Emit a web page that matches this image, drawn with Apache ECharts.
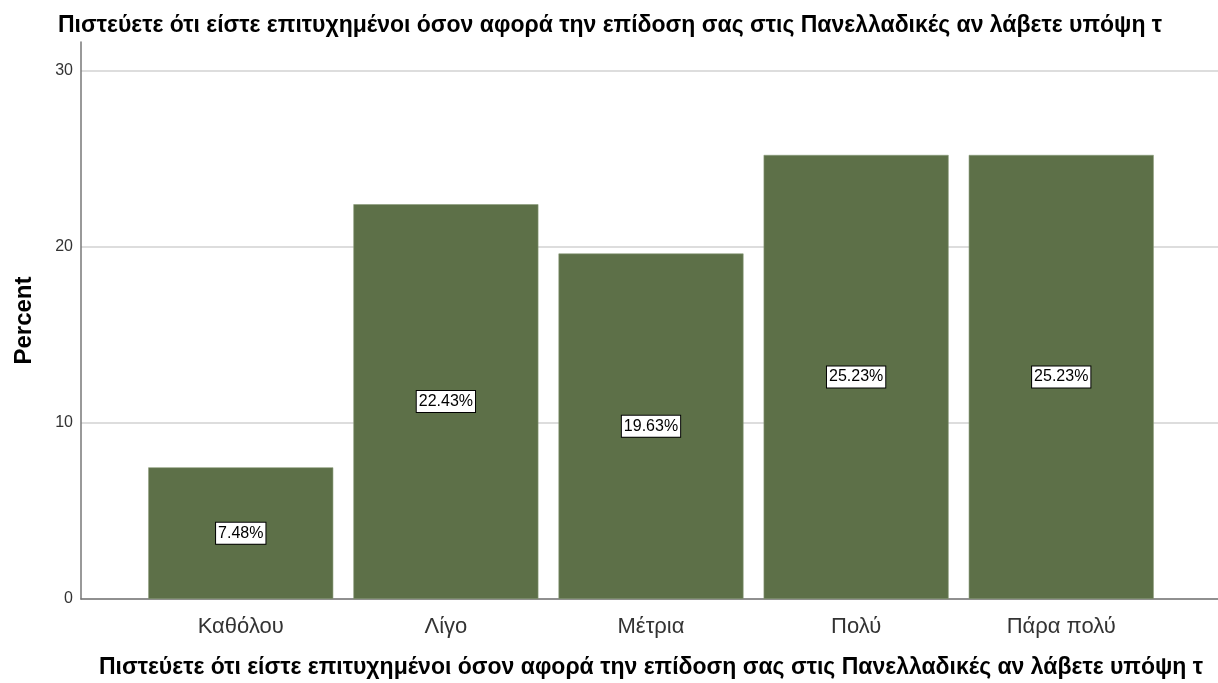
<!DOCTYPE html>
<html>
<head>
<meta charset="utf-8">
<script src="https://cdn.jsdelivr.net/npm/echarts@6/dist/echarts.min.js"></script>
<style>
  html, body { margin: 0; padding: 0; background: #fff; }
  #chart { width: 1218px; height: 683px; }
</style>
</head>
<body>
<div id="chart"></div>
<script>
// Survey answers and their share of respondents (%)
const categories = ['Καθόλου', 'Λίγο', 'Μέτρια', 'Πολύ', 'Πάρα πολύ'];
const percents = [7.48, 22.43, 19.63, 25.23, 25.23];
const questionText = 'Πιστεύετε ότι είστε επιτυχημένοι όσον αφορά την επίδοση σας στις Πανελλαδικές αν λάβετε υπόψη τ';
const yTicks = { min: 0, max: 30, interval: 10 };
const frameTop = 31.65; // the frame's axis line runs a bit above the last tick

const FONT = '"Liberation Sans", Arial, sans-serif';
const BAR = '#5d7048';

const chart = echarts.init(document.getElementById('chart'), null, { renderer: 'canvas' });

const gridBase = { containLabel: false, outerBoundsMode: 'none', top: 71, bottom: 84 };

chart.setOption({
  animation: false,
  backgroundColor: '#ffffff',
  title: {
    text: questionText,
    left: 53,
    top: 9,
    textStyle: { fontFamily: FONT, fontSize: 23, fontWeight: 'bold', color: '#000' }
  },
  grid: [
    // frame: axis lines only
    Object.assign({}, gridBase, { left: 81, right: 0, top: 42 }),
    // value scale with gridlines across the full width
    Object.assign({}, gridBase, { left: 81, right: 0 }),
    // bars
    Object.assign({}, gridBase, { left: 138.2, right: 54.2 })
  ],
  xAxis: [
    {
      gridIndex: 0, type: 'value', min: 0, max: 1,
      axisLine: { show: true, onZero: false, lineStyle: { color: '#777', width: 1.5 } },
      axisTick: { show: false }, axisLabel: { show: false }, splitLine: { show: false }
    },
    {
      gridIndex: 1, type: 'value', min: 0, max: 1, show: false
    },
    {
      gridIndex: 2, type: 'category', data: categories,
      axisLine: { show: false }, axisTick: { show: false },
      axisLabel: { fontFamily: FONT, fontSize: 22, color: '#333', margin: 17 },
      name: questionText, nameLocation: 'middle', nameGap: 57,
      nameTextStyle: { fontFamily: FONT, fontSize: 23, fontWeight: 'bold', color: '#000' }
    }
  ],
  yAxis: [
    {
      gridIndex: 0, type: 'value', min: 0, max: frameTop,
      axisLine: { show: true, lineStyle: { color: '#777', width: 1.5 } },
      axisTick: { show: false }, axisLabel: { show: false }, splitLine: { show: false },
      name: 'Percent', nameLocation: 'middle', nameGap: 45, nameRotate: 90,
      nameTextStyle: { fontFamily: FONT, fontSize: 24, fontWeight: 'bold', color: '#000' }
    },
    {
      gridIndex: 1, type: 'value', min: yTicks.min, max: yTicks.max, interval: yTicks.interval,
      axisLine: { show: false }, axisTick: { show: false },
      axisLabel: { fontFamily: FONT, fontSize: 16, color: '#333', margin: 8 },
      splitLine: { show: true, lineStyle: { color: '#d2d2d2', width: 1.5 } }
    },
    {
      gridIndex: 2, type: 'value', min: yTicks.min, max: yTicks.max, show: false
    }
  ],
  series: [
    {
      type: 'bar',
      xAxisIndex: 2, yAxisIndex: 2,
      data: percents,
      barWidth: 185,
      itemStyle: { color: BAR, borderColor: '#8a9a78', borderWidth: 0.6 },
      label: {
        show: true,
        position: 'inside',
        formatter: p => p.value.toFixed(2) + '%',
        fontFamily: FONT, fontSize: 16, color: '#000',
        backgroundColor: '#fff', borderColor: '#000', borderWidth: 1,
        padding: [3, 2, 2, 2]
      },
      z: 3
    }
  ]
});
</script>
</body>
</html>
